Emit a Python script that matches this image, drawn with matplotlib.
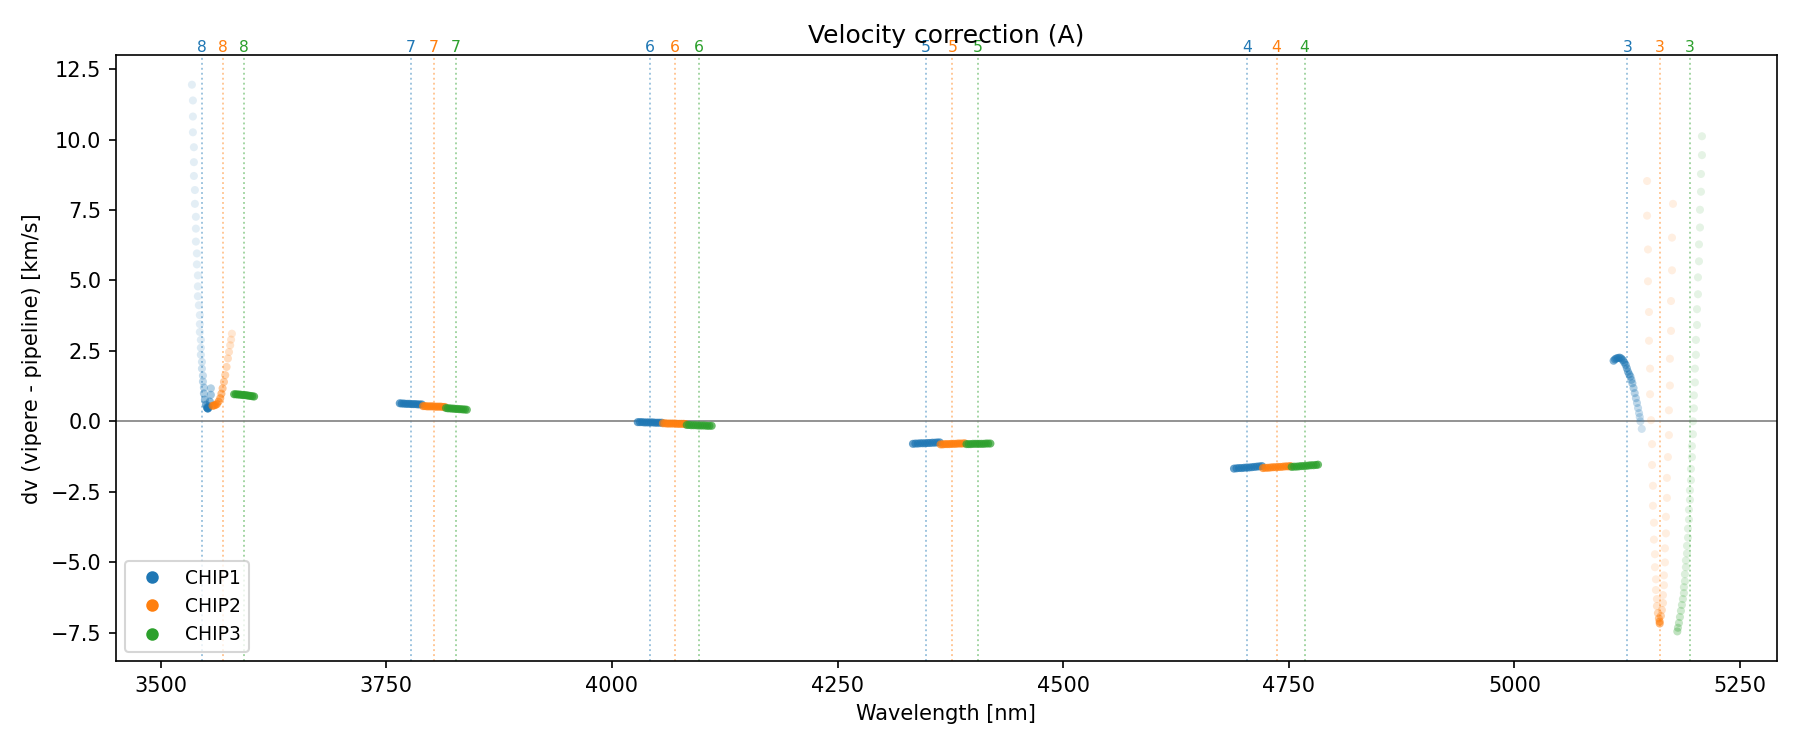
import numpy as np
import matplotlib
matplotlib.use("Agg")
import matplotlib.pyplot as plt
from matplotlib.lines import Line2D

# ---------------- data ----------------
orders = [8, 7, 6, 5, 4, 3]
# order-centre wavelengths (vertical marker lines) per chip
centre_c1 = [3545.8, 3777.3, 4041.7, 4347.5, 4704.2, 5125.1]
centre_c2 = [3568.7, 3802.8, 4069.4, 4377.4, 4736.6, 5160.9]
centre_c3 = [3591.9, 3827.1, 4096.3, 4405.4, 4767.6, 5194.1]

# order 8
wl_c1_o8 = [3534.7, 3535.8, 3535.8, 3535.8, 3536.9, 3536.9, 3536.9, 3538.0, 3538.0, 3539.1,
            3539.1, 3539.1, 3540.2, 3540.2, 3541.3, 3541.3, 3541.3, 3542.4, 3543.5, 3543.5,
            3543.5, 3544.6, 3544.6, 3544.6, 3545.8, 3545.8, 3546.9, 3546.9, 3548.0, 3548.0,
            3549.1, 3550.2, 3551.3, 3552.0, 3552.4, 3553.0, 3553.5, 3554.6, 3555.7, 3555.7]
dv_c1_o8 = [11.95, 11.39, 10.82, 10.26, 9.73, 9.20, 8.71, 8.21, 7.72, 7.26,
            6.84, 6.38, 5.96, 5.57, 5.18, 4.79, 4.44, 4.12, 3.77, 3.45,
            3.17, 2.89, 2.61, 2.36, 2.11, 1.87, 1.62, 1.41, 1.20, 0.99,
            0.77, 0.59, 0.49, 0.46, 0.45, 0.48, 0.53, 0.70, 0.94, 1.17]
wl_c2_o8 = [3557.5, 3559.1, 3560.8, 3562.4, 3564.2, 3566.1, 3567.4, 3568.7, 3570.2, 3571.6,
            3573.1, 3574.6, 3575.8, 3577.1, 3578.1, 3579.0]
dv_c2_o8 = [0.55, 0.56, 0.58, 0.61, 0.70, 0.82, 0.98, 1.17, 1.40, 1.64,
            1.93, 2.23, 2.46, 2.70, 2.90, 3.11]
wl_c3_o8 = [3581.5, 3583.5, 3585.5, 3587.5, 3589.5, 3591.5, 3593.5, 3595.5, 3597.5, 3599.5, 3601.5, 3603.6]
dv_c3_o8 = [0.96, 0.96, 0.95, 0.95, 0.94, 0.93, 0.93, 0.92, 0.91, 0.90, 0.89, 0.88]

# order 7
wl_c1_o7 = [3765.0, 3767.2, 3769.4, 3771.6, 3773.8, 3776.0, 3778.2, 3780.4, 3782.6, 3784.8, 3787.0, 3789.4]
dv_c1_o7 = [0.64, 0.63, 0.63, 0.62, 0.62, 0.62, 0.61, 0.61, 0.61, 0.60, 0.60, 0.60]
wl_c2_o7 = [3790.8, 3793.0, 3795.2, 3797.4, 3799.6, 3801.8, 3804.0, 3806.2, 3808.4, 3810.6, 3812.8, 3815.0]
dv_c2_o7 = [0.54, 0.54, 0.53, 0.53, 0.53, 0.53, 0.52, 0.52, 0.52, 0.52, 0.51, 0.51]
wl_c3_o7 = [3816.2, 3818.3, 3820.4, 3822.5, 3824.6, 3826.7, 3828.8, 3830.9, 3833.0, 3835.1, 3837.2, 3839.3]
dv_c3_o7 = [0.47, 0.46, 0.46, 0.45, 0.45, 0.44, 0.44, 0.43, 0.43, 0.42, 0.42, 0.41]

# order 6
wl_c1_o6 = [4028.7, 4031.1, 4033.5, 4035.9, 4038.3, 4040.7, 4043.1, 4045.5, 4047.9, 4050.3, 4052.7, 4055.2]
dv_c1_o6 = [-0.03, -0.03, -0.03, -0.04, -0.04, -0.04, -0.04, -0.04, -0.05, -0.05, -0.05, -0.05]
wl_c2_o6 = [4056.5, 4058.8, 4061.1, 4063.4, 4065.7, 4068.0, 4070.3, 4072.6, 4074.9, 4077.2, 4079.5, 4081.8]
dv_c2_o6 = [-0.07, -0.07, -0.08, -0.08, -0.08, -0.08, -0.08, -0.09, -0.09, -0.09, -0.09, -0.10]
wl_c3_o6 = [4083.0, 4085.5, 4088.0, 4090.5, 4093.0, 4095.5, 4098.0, 4100.5, 4103.0, 4105.5, 4108.0, 4110.6]
dv_c3_o6 = [-0.13, -0.13, -0.14, -0.14, -0.14, -0.15, -0.15, -0.15, -0.15, -0.16, -0.16, -0.16]

# order 5
wl_c1_o5 = [4333.6, 4336.3, 4339.0, 4341.7, 4344.4, 4347.1, 4349.8, 4352.5, 4355.2, 4357.9, 4360.6, 4363.3]
dv_c1_o5 = [-0.80, -0.79, -0.79, -0.78, -0.78, -0.78, -0.77, -0.77, -0.76, -0.76, -0.75, -0.75]
wl_c2_o5 = [4364.2, 4366.6, 4369.0, 4371.4, 4373.8, 4376.2, 4378.6, 4381.0, 4383.4, 4385.8, 4388.2, 4390.8]
dv_c2_o5 = [-0.82, -0.82, -0.81, -0.81, -0.81, -0.80, -0.80, -0.80, -0.79, -0.79, -0.79, -0.78]
wl_c3_o5 = [4392.9, 4395.3, 4397.7, 4400.1, 4402.5, 4404.9, 4407.3, 4409.7, 4412.1, 4414.5, 4416.9, 4419.4]
dv_c3_o5 = [-0.81, -0.81, -0.81, -0.80, -0.80, -0.80, -0.80, -0.80, -0.80, -0.79, -0.79, -0.79]

# order 4
wl_c1_o4 = [4689.3, 4692.1, 4694.9, 4697.7, 4700.5, 4703.3, 4706.1, 4708.9, 4711.7, 4714.5, 4717.3, 4720.2]
dv_c1_o4 = [-1.68, -1.67, -1.66, -1.66, -1.65, -1.64, -1.64, -1.63, -1.62, -1.61, -1.60, -1.59]
wl_c2_o4 = [4721.4, 4724.2, 4727.0, 4729.8, 4732.6, 4735.4, 4738.2, 4741.0, 4743.8, 4746.6, 4749.4, 4751.8]
dv_c2_o4 = [-1.66, -1.65, -1.65, -1.64, -1.63, -1.63, -1.62, -1.62, -1.61, -1.60, -1.60, -1.59]
wl_c3_o4 = [4753.2, 4755.9, 4758.6, 4761.3, 4764.0, 4766.7, 4769.4, 4772.1, 4774.8, 4777.5, 4780.2, 4782.4]
dv_c3_o4 = [-1.62, -1.61, -1.61, -1.60, -1.59, -1.59, -1.58, -1.57, -1.56, -1.56, -1.55, -1.54]

# order 3
wl_c1_o3 = [5109.9, 5111.4, 5112.9, 5114.8, 5116.6, 5118.4, 5120.2, 5121.8, 5123.3, 5124.6, 5125.8, 5127.2,
            5128.5, 5129.6, 5130.7, 5132.0, 5133.3, 5134.6, 5135.8, 5137.0, 5138.1, 5138.9, 5139.6, 5141.1]
dv_c1_o3 = [2.15, 2.20, 2.23, 2.25, 2.26, 2.23, 2.17, 2.09, 2.00, 1.88, 1.76, 1.67,
            1.59, 1.47, 1.35, 1.18, 1.00, 0.82, 0.65, 0.47, 0.29, 0.15, 0.00, -0.27]
wl_c2_o3 = [5147.0, 5147.0, 5148.0, 5148.0, 5149.1, 5149.1, 5150.3, 5150.3, 5151.4, 5152.5,
            5152.5, 5153.5, 5153.5, 5154.6, 5154.6, 5155.7, 5155.7, 5156.8, 5156.8, 5157.9,
            5157.9, 5159.0, 5160.1, 5160.9, 5161.0, 5162.3, 5163.4, 5164.6, 5164.6, 5165.7,
            5165.7, 5166.8, 5166.8, 5167.9, 5167.9, 5169.0, 5169.0, 5170.1, 5171.2, 5171.2,
            5172.3, 5172.3, 5173.5, 5173.5, 5174.6, 5174.6, 5175.7]
dv_c2_o3 = [8.53, 7.30, 6.10, 4.97, 3.88, 2.86, 1.87, 0.96, 0.04, -0.81,
            -1.55, -2.29, -3.00, -3.60, -4.20, -4.72, -5.18, -5.61, -5.99, -6.31,
            -6.56, -6.81, -7.00, -7.11, -7.18, -6.91, -6.70, -6.45, -6.17, -5.82,
            -5.47, -5.01, -4.51, -3.98, -3.39, -2.72, -2.01, -1.27, -0.49, 0.39,
            1.27, 2.22, 3.21, 4.27, 5.36, 6.52, 7.72]
wl_c3_o3 = [5207.8, 5207.8, 5206.7, 5206.7, 5205.6, 5205.6, 5204.5, 5204.5, 5203.4, 5203.4,
            5202.3, 5202.3, 5201.1, 5201.1, 5200.0, 5200.0, 5198.9, 5198.9, 5197.8, 5197.8,
            5196.7, 5196.7, 5195.6, 5195.6, 5194.5, 5194.5, 5193.4, 5193.4, 5192.3, 5192.3,
            5191.2, 5191.2, 5190.0, 5190.0, 5188.9, 5188.9, 5187.8, 5187.8, 5186.7, 5185.6,
            5184.5, 5183.4, 5182.3, 5181.2, 5180.5]
dv_c3_o3 = [10.12, 9.45, 8.78, 8.15, 7.51, 6.88, 6.28, 5.68, 5.11, 4.51,
            3.98, 3.42, 2.89, 2.36, 1.87, 1.38, 0.92, 0.46, 0.00, -0.46,
            -0.88, -1.27, -1.69, -2.09, -2.45, -2.79, -3.14, -3.49, -3.81, -4.13,
            -4.42, -4.69, -4.94, -5.18, -5.43, -5.68, -5.89, -6.10, -6.31, -6.52,
            -6.73, -6.95, -7.16, -7.33, -7.46]

chips = ["CHIP1", "CHIP2", "CHIP3"]

# ---------------- style ----------------
colors = ["#1f77b4", "#ff7f0e", "#2ca02c"]
segments = [
    # (chip index, wl, dv, reference dv of the dense core, fade scale, peak alpha)
    (0, wl_c1_o8, dv_c1_o8, 0.45, 0.8, 0.65),
    (1, wl_c2_o8, dv_c2_o8, 0.55, 1.2, 0.65),
    (2, wl_c3_o8, dv_c3_o8, None, None, 0.75),
    (0, wl_c1_o7, dv_c1_o7, None, None, 0.7),
    (1, wl_c2_o7, dv_c2_o7, None, None, 0.7),
    (2, wl_c3_o7, dv_c3_o7, None, None, 0.7),
    (0, wl_c1_o6, dv_c1_o6, None, None, 0.7),
    (1, wl_c2_o6, dv_c2_o6, None, None, 0.7),
    (2, wl_c3_o6, dv_c3_o6, None, None, 0.7),
    (0, wl_c1_o5, dv_c1_o5, None, None, 0.7),
    (1, wl_c2_o5, dv_c2_o5, None, None, 0.7),
    (2, wl_c3_o5, dv_c3_o5, None, None, 0.7),
    (0, wl_c1_o4, dv_c1_o4, None, None, 0.7),
    (1, wl_c2_o4, dv_c2_o4, None, None, 0.7),
    (2, wl_c3_o4, dv_c3_o4, None, None, 0.7),
    (0, wl_c1_o3, dv_c1_o3, 2.26, 1.5, 0.6),
    (1, wl_c2_o3, dv_c2_o3, -7.15, 0.35, 0.6),
    (2, wl_c3_o3, dv_c3_o3, -7.46, 1.5, 0.3),
]

fig, ax = plt.subplots(figsize=(12, 5), dpi=150)
fig.subplots_adjust(left=0.0644, right=0.987, top=0.9265, bottom=0.1183)

ax.axhline(0, color="gray", lw=0.8, zorder=1)

for ci, cen in enumerate([centre_c1, centre_c2, centre_c3]):
    for o, x in zip(orders, cen):
        ax.axvline(x, color=colors[ci], ls=":", lw=0.9, alpha=0.45, zorder=0)
        ax.text(x, 1.0, str(o), color=colors[ci], fontsize=7.5, ha="center", va="bottom",
                transform=ax.get_xaxis_transform())

for ci, wl, dv, ref, sc, amax in segments:
    dv = np.asarray(dv)
    if ref is None:
        alpha = np.full(dv.shape, amax)
    else:
        alpha = 0.12 + (amax - 0.12) * np.exp(-np.abs(dv - ref) / sc)
    rgba = np.zeros((len(dv), 4))
    rgba[:, :3] = matplotlib.colors.to_rgb(colors[ci])
    rgba[:, 3] = alpha
    ax.scatter(wl, dv, s=15, c=rgba, edgecolors="none", zorder=2)

ax.set_xlim(3450.5, 5290.5)
ax.set_ylim(-8.52, 13.0)
ax.set_title("Velocity correction (A)")
ax.set_xlabel("Wavelength [nm]")
ax.set_ylabel("dv (vipere - pipeline) [km/s]")

handles = [Line2D([], [], marker="o", ls="none", color=c, markersize=5) for c in colors]
ax.legend(handles, chips, loc="lower left", fontsize=9)

fig.savefig("out.png", dpi=150)
